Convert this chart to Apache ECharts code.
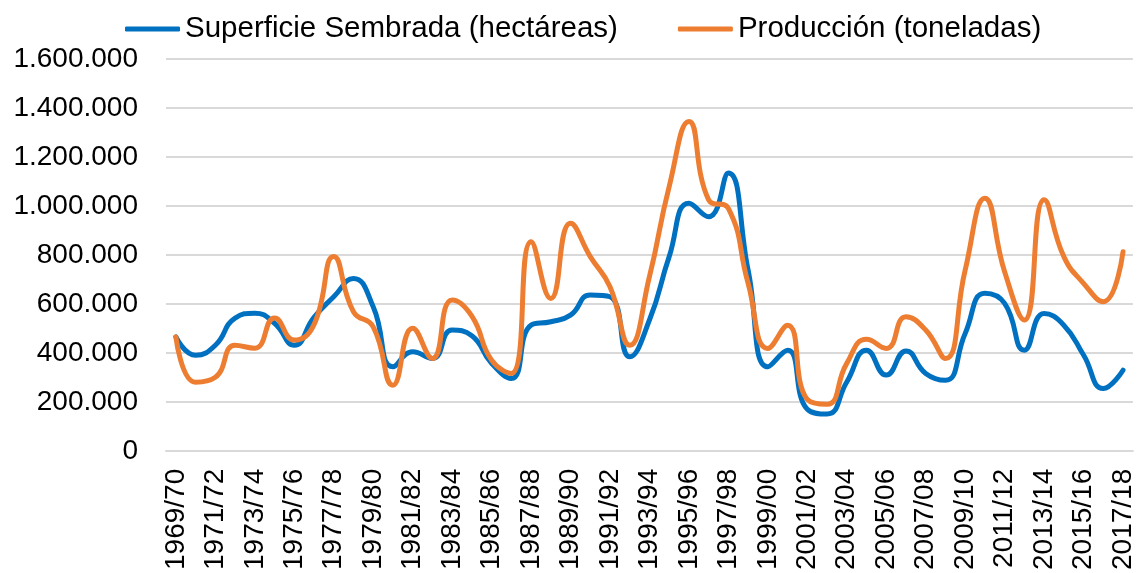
<!DOCTYPE html>
<html lang="es">
<head>
    <meta charset="UTF-8">
    <title>Superficie y producción</title>
    <script src="https://cdn.jsdelivr.net/npm/echarts@6/dist/echarts.min.js"></script>
    <style>
        html, body { margin: 0; padding: 0; background: #fff; }
        #main { width: 1137px; height: 573px; }
    </style>
</head>
<body>
<div id="main"></div>
<script type="text/javascript">
    // campañas agrícolas
    var campanas = [
        '1969/70', '1970/71', '1971/72', '1972/73', '1973/74', '1974/75', '1975/76', '1976/77',
        '1977/78', '1978/79', '1979/80', '1980/81', '1981/82', '1982/83', '1983/84', '1984/85',
        '1985/86', '1986/87', '1987/88', '1988/89', '1989/90', '1990/91', '1991/92', '1992/93',
        '1993/94', '1994/95', '1995/96', '1996/97', '1997/98', '1998/99', '1999/00', '2000/01',
        '2001/02', '2002/03', '2003/04', '2004/05', '2005/06', '2006/07', '2007/08', '2008/09',
        '2009/10', '2010/11', '2011/12', '2012/13', '2013/14', '2014/15', '2015/16', '2016/17',
        '2017/18'
    ];

    // Superficie Sembrada (hectáreas)
    var superficie = [
        465000, 390000, 431000, 542000, 562000, 521000, 431000, 545000,
        629000, 704000, 588000, 343000, 404000, 377000, 493000, 470000,
        357000, 295000, 513000, 527000, 554000, 636000, 629000, 384000,
        534000, 793000, 1011000, 956000, 1134000, 738000, 343000, 411000,
        170000, 150000, 281000, 411000, 309000, 408000, 316000, 288000,
        479000, 643000, 602000, 411000, 561000, 513000, 391000, 254000,
        329000
    ];

    // Producción (toneladas)
    var produccion = [
        465000, 280000, 300000, 431000, 419000, 542000, 452000, 515000,
        793000, 568000, 506000, 268000, 500000, 377000, 616000, 550000,
        370000, 316000, 854000, 622000, 929000, 793000, 670000, 431000,
        711000, 1079000, 1345000, 1025000, 990000, 684000, 418000, 513000,
        210000, 190000, 357000, 455000, 418000, 547000, 493000, 377000,
        738000, 1031000, 731000, 534000, 1025000, 793000, 684000, 609000,
        813000
    ];

    var ejeY = { min: 0, max: 1600000, interval: 200000 };

    var fuente = '"Liberation Sans", Arial, sans-serif';

    // separador de miles con punto
    function miles(v) {
        return String(v).replace(/\B(?=(\d{3})+(?!\d))/g, '.');
    }

    var myChart = echarts.init(document.getElementById('main'));

    var option = {
        animation: false,
        textStyle: { fontFamily: fuente },
        legend: {
            top: 14,
            left: 125,
            padding: 0,
            itemWidth: 55,
            itemHeight: 5,
            itemGap: 60,
            icon: 'roundRect',
            textStyle: { fontSize: 29.5, color: '#000', fontFamily: fuente },
            data: ['Superficie Sembrada (hectáreas)', 'Producción (toneladas)']
        },
        grid: {
            left: 166,
            right: 2,
            top: 59,
            bottom: 122,
            containLabel: false
        },
        xAxis: {
            type: 'category',
            data: campanas,
            boundaryGap: true,
            axisLine: { show: true, lineStyle: { color: '#d9d9d9', width: 2 } },
            axisTick: { show: false },
            axisLabel: {
                interval: 1,
                rotate: 90,
                margin: 18,
                fontSize: 28,
                color: '#000',
                fontFamily: fuente
            }
        },
        yAxis: {
            type: 'value',
            min: ejeY.min,
            max: ejeY.max,
            interval: ejeY.interval,
            axisLine: { show: false },
            axisTick: { show: false },
            splitLine: { lineStyle: { color: '#d9d9d9', width: 2 } },
            axisLabel: {
                margin: 28,
                fontSize: 28,
                color: '#000',
                fontFamily: fuente,
                formatter: miles
            }
        },
        series: [
            {
                name: 'Superficie Sembrada (hectáreas)',
                type: 'line',
                data: superficie,
                smooth: 0.5,
                showSymbol: false,
                lineStyle: { color: '#0070c0', width: 5, cap: 'round' },
                itemStyle: { color: '#0070c0' }
            },
            {
                name: 'Producción (toneladas)',
                type: 'line',
                data: produccion,
                smooth: 0.5,
                showSymbol: false,
                lineStyle: { color: '#ed7d31', width: 5, cap: 'round' },
                itemStyle: { color: '#ed7d31' }
            }
        ]
    };

    myChart.setOption(option);
</script>
</body>
</html>
